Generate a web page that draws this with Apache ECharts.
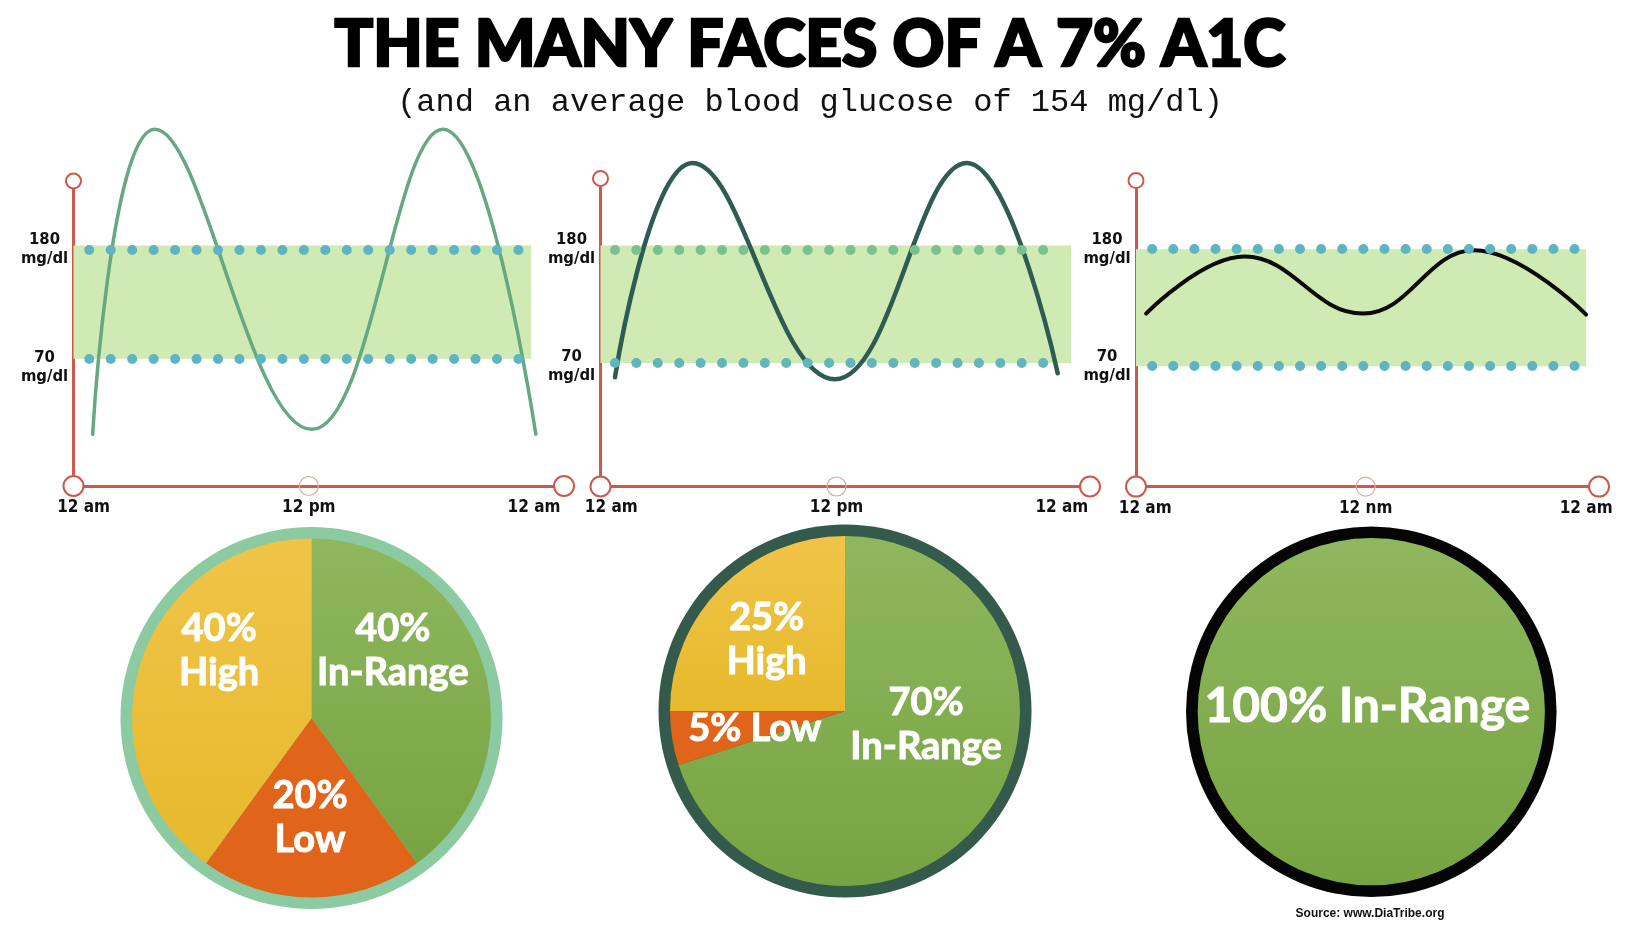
<!DOCTYPE html>
<html><head><meta charset="utf-8">
<script src="https://cdn.jsdelivr.net/npm/echarts@6/dist/echarts.min.js"></script>
<style>html,body{margin:0;padding:0;background:#fff}#c{width:1630px;height:940px}</style>
</head><body><div id="c"></div>
<script>
// ---------------- data ----------------
const timeTicks = [0, 12, 24];
const timeLabelsPm = ['12 am', '12 pm', '12 am'];
const timeLabelsNm = ['12 am', '12 nm', '12 am'];
const rangeTicks = [70, 180];
const rangeUnit = 'mg/dl';
const targetRange = [70, 180];

// [hour, mg/dl] (start, peaks, troughs, end)
const glucoseWide = [[0.48,-6],[3.8,301],[12.15,-1],[19.15,301],[24.1,-6]];
const glucoseMid = [[0.2,56],[4.33,264],[11.91,54],[18.94,264],[23.78,60]];
const glucoseSteady = [[0.05,119],[5.41,173],[11.85,119],[17.9,179],[24.0,118]];

const pieCategories = ['In-Range', 'Low', 'High'];
const shareWide = [40, 20, 40];
const shareMid = [70, 5, 25];
const shareSteady = [100, 0, 0];

// ---------------- styles / layout ----------------
const labelFont = '"Liberation Sans Narrow", "DejaVu Sans Condensed", sans-serif';
const red = '#cb5a4b';
const panels = [
  {grid:{left:73.5, top:181, width:490.5, height:305}, xMin:-0.54, xMax:25.6, yMin:-58, yMax:249,
   labels:timeLabelsPm, data:glucoseWide, color:'#66a880', width:3.5,
   dot:[0.3,23.2], period:21.48, dotTop:'#5fb4c3', dotBottom:'#5fb4c3', bandEnd:23.85, band:[70,184], lowGap:16},
  {grid:{left:600.5, top:178.5, width:489.5, height:308}, xMin:-0.57, xMax:25.5, yMin:-50, yMax:249,
   labels:timeLabelsPm, data:glucoseMid, color:'#2e5b52', width:4.5,
   dot:[0.2,23.02], period:21.43, dotTop:'#79c28e', dotBottom:'#63b5bc', bandEnd:24.5, band:[70,184], lowGap:6},
  {grid:{left:1136, top:180.6, width:463, height:306}, xMin:-0.5, xMax:24.7, yMin:-45, yMax:245,
   labels:timeLabelsNm, data:glucoseSteady, color:'#0b0b0b', width:4,
   dot:[0.38,23.4], period:21.14, dotTop:'#5fb4c3', dotBottom:'#5fb4c3', bandEnd:24.0, band:[69,180], lowGap:2}
];

const green = {type:'linear',x:0,y:0,x2:0,y2:1,colorStops:[{offset:0,color:'#8fb75e'},{offset:1,color:'#77a442'}]};
const yellow = {type:'linear',x:0,y:0,x2:0,y2:1,colorStops:[{offset:0,color:'#f0c448'},{offset:1,color:'#e7b92c'}]};
const orange = '#e0641a';
const catColors = {'In-Range':green, 'Low':orange, 'High':yellow};

const pies = [
  {values:shareWide, center:[311.5,718], r:179.5, ring:191, ringColor:'#8ccaa1', fontSize:38,
   seps:{'In-Range':'\n','Low':'\n','High':'\n'}, offsets:[[-6.9,-38.6],[-1.5,7],[-4.1,-38.6]], position:'inside'},
  {values:shareMid, center:[845,711], r:175, ring:186.5, ringColor:'#345a4c', fontSize:38,
   seps:{'In-Range':'\n','Low':' ','High':'\n'}, offsets:[[7.8,-39.6],[-0.9,3.5],[-14.4,-7.4]], position:'inside'},
  {values:shareSteady, center:[1371.3,711.7], r:173.6, ring:185.3, ringColor:'#050505', fontSize:48,
   seps:{'In-Range':' ','Low':' ','High':' '}, offsets:[[-4,-5]], position:'center'}
];

// ---------------- build option ----------------
const grid = [], xAxis = [], yAxis = [], series = [];
panels.forEach((p, i) => {
  grid.push(Object.assign({outerBoundsMode:'none', containLabel:false}, p.grid));
  xAxis.push({
    type:'value', gridIndex:i, min:p.xMin, max:p.xMax,
    axisLine:{show:true, onZero:false, lineStyle:{color:red, width:3}, symbol:['emptyCircle','emptyCircle'], symbolSize:[20,20]},
    axisTick:{show:false}, splitLine:{show:false},
    axisLabel:{show:true, customValues:timeTicks, margin:13,
      formatter:(v) => p.labels[timeTicks.indexOf(v)] || '',
      fontFamily:labelFont, fontWeight:'bold', fontSize:17, color:'#111'}
  });
  yAxis.push({
    type:'value', gridIndex:i, min:p.yMin, max:p.yMax,
    axisLine:{show:true, onZero:false, lineStyle:{color:red, width:3}, symbol:['none','emptyCircle'], symbolSize:[15,15]},
    axisTick:{show:false}, splitLine:{show:false},
    axisLabel:{show:true, customValues:rangeTicks, margin:29, align:'center',
      formatter:(v) => v === rangeTicks[0] ? '{g| }\n' + v + '\n' + rangeUnit : v + '\n' + rangeUnit,
      fontFamily:labelFont, fontWeight:'bold', fontSize:16.5, lineHeight:19, color:'#111',
      rich:{g:{fontSize:1, lineHeight:p.lowGap}}}
  });
  // target band + mid marker
  series.push({
    type:'line', xAxisIndex:i, yAxisIndex:i, data:[], z:1, silent:true,
    markArea:{silent:true, itemStyle:{color:'#cfeab3', opacity:1, borderWidth:0},
      data:[[{coord:[p.xMin, p.band[0]]},{coord:[p.bandEnd, p.band[1]]}]]},
    markPoint:{silent:true, symbol:'circle', symbolSize:19, label:{show:false},
      itemStyle:{color:'rgba(255,255,255,0)', borderColor:'#dcaaa3', borderWidth:1.2},
      data:[{coord:[timeTicks[1], p.yMin]}]}
  });
  // dotted target lines
  series.push({
    type:'line', xAxisIndex:i, yAxisIndex:i, data:[], z:2, silent:true,
    markLine:{silent:true, symbol:['none','none'], label:{show:false},
      data:[
        [{coord:[p.dot[0], targetRange[1]], lineStyle:{color:p.dotTop}}, {coord:[p.dot[1], targetRange[1]]}],
        [{coord:[p.dot[0], targetRange[0]], lineStyle:{color:p.dotBottom}}, {coord:[p.dot[1], targetRange[0]]}]
      ],
      lineStyle:{width:10, type:[0.01, p.period - 0.03], cap:'round', opacity:1}}
  });
  // glucose curve
  series.push({
    type:'line', xAxisIndex:i, yAxisIndex:i, data:p.data, z:3, smooth:0.42,
    showSymbol:false, symbol:'none', clip:false, silent:true,
    lineStyle:{color:p.color, width:p.width, cap:'round'}
  });
});

pies.forEach((pc) => {
  const total = pc.values.reduce((a,b)=>a+b,0);
  series.push({
    type:'pie', center:pc.center, radius:[0, pc.ring], silent:true, z:1,
    label:{show:false}, labelLine:{show:false},
    itemStyle:{color:pc.ringColor, borderWidth:0},
    data:[{name:'total', value:total}]
  });
  const data = pieCategories.map((c, k) => ({name:c, value:pc.values[k], itemStyle:{color:catColors[c]}}))
                            .filter(d => d.value > 0);
  series.push({
    type:'pie', center:pc.center, radius:[0, pc.r], startAngle:90, clockwise:true, silent:true, z:2,
    avoidLabelOverlap:false, itemStyle:{borderWidth:0}, padAngle:0,
    label:{show:true, position:pc.position, color:'#fff', fontFamily:'Lato, "Open Sans", sans-serif',
      fontWeight:'bold', fontSize:pc.fontSize, lineHeight:44, textBorderColor:'#fff', textBorderWidth:1,
      formatter:(prm) => prm.value + '%' + pc.seps[prm.name] + prm.name},
    labelLine:{show:false},
    labelLayout:(prm) => { const o = pc.offsets[prm.dataIndex] || [0,0]; return {dx:o[0], dy:o[1]}; },
    data:data
  });
});

const option = {
  backgroundColor:'#fff',
  animation:false,
  title:[
    {text:'THE MANY FACES OF A 7% A1C', left:810, textAlign:'center', top:13, padding:0,
     textStyle:{fontFamily:'Lato, Inter, sans-serif', fontWeight:900, fontSize:64, lineHeight:64, color:'#000',
       textBorderColor:'#000', textBorderWidth:2.5}},
    {text:'(and an average blood glucose of 154 mg/dl)', left:810, textAlign:'center', top:85, padding:0,
     textStyle:{fontFamily:'"Liberation Mono", "DejaVu Serif", serif', fontWeight:'normal', fontSize:32, lineHeight:36, color:'#111'}}
  ],
  graphic:[{type:'text', x:1370, y:914, silent:true,
    style:{text:'Source: www.DiaTribe.org', fill:'#111', font:'bold 12px "Liberation Sans", Arial, sans-serif', textAlign:'center', textVerticalAlign:'middle'}}],
  grid, xAxis, yAxis, series
};
const chart = echarts.init(document.getElementById('c'), null, {renderer:'canvas'});
chart.setOption(option);
</script></body></html>
